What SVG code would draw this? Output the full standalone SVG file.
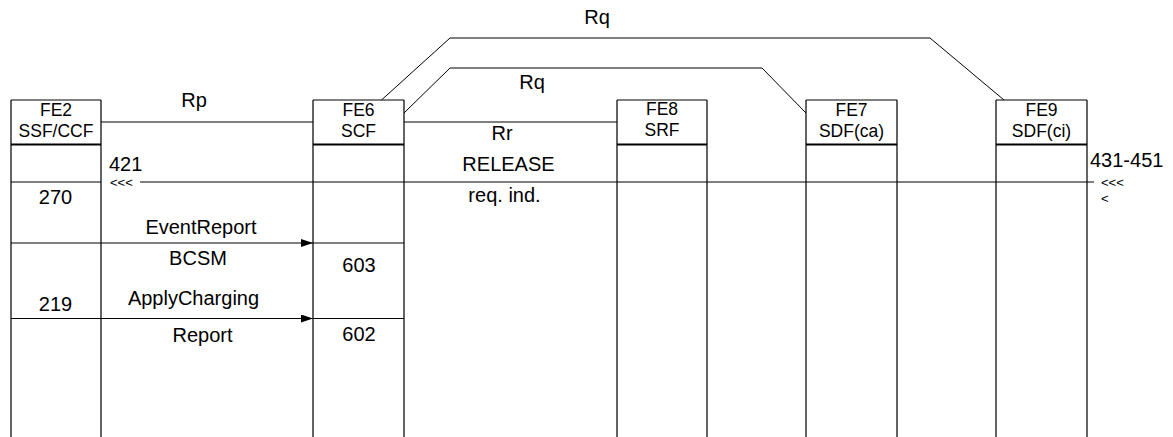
<svg xmlns="http://www.w3.org/2000/svg" width="1173" height="437" viewBox="0 0 1173 437">
<defs>
<style>
.box{fill:#fff;stroke:#000;stroke-width:1}
.life{stroke:#222;stroke-width:1.4;fill:none}
.hdr{stroke:#000;stroke-width:2}
.sep{stroke:#000;stroke-width:1}
.ln{stroke:#000;stroke-width:1;fill:none}
.fe{font-family:"Liberation Sans",Arial,sans-serif;font-size:17.5px;text-anchor:middle;fill:#000}
.lb{font-family:"Liberation Sans",Arial,sans-serif;font-size:20px;fill:#000}
.c{text-anchor:middle}
.sm{font-family:"Liberation Sans",Arial,sans-serif;font-size:13px;fill:#000}
</style>
<marker id="ah" viewBox="0 0 12 8" refX="12" refY="4" markerWidth="12" markerHeight="8" markerUnits="userSpaceOnUse" orient="auto">
<path d="M0,0 L12,4 L0,8 Z" fill="#000"/>
</marker>
</defs>
<rect width="1173" height="437" fill="#fff"/>

<g id="FE2">
<line class="life" x1="11" y1="100" x2="11" y2="437"/>
<line class="life" x1="101" y1="100" x2="101" y2="437"/>
<line class="sep" x1="11" y1="100" x2="101" y2="100"/>
<line class="hdr" x1="11" y1="144.5" x2="101" y2="144.5"/>
<line class="sep" x1="11" y1="182" x2="101" y2="182"/>
<line class="sep" x1="11" y1="243" x2="101" y2="243"/>
<line class="sep" x1="11" y1="318.5" x2="101" y2="318.5"/>
<text class="fe" x="56" y="115.5">FE2</text>
<text class="fe" x="56" y="136.5">SSF/CCF</text>
<text class="lb c" x="55.5" y="204">270</text>
<text class="lb c" x="55.5" y="311">219</text>
</g>

<g id="FE6">
<line class="life" x1="313" y1="100" x2="313" y2="437"/>
<line class="life" x1="404" y1="100" x2="404" y2="437"/>
<line class="sep" x1="313" y1="100" x2="404" y2="100"/>
<line class="hdr" x1="313" y1="144.5" x2="404" y2="144.5"/>
<line class="sep" x1="313" y1="243" x2="404" y2="243"/>
<line class="sep" x1="313" y1="318.5" x2="404" y2="318.5"/>
<text class="fe" x="358.5" y="115.5">FE6</text>
<text class="fe" x="358.5" y="136.5">SCF</text>
<text class="lb c" x="359" y="272">603</text>
<text class="lb c" x="359" y="341">602</text>
</g>

<g id="FE8">
<line class="life" x1="617" y1="100" x2="617" y2="437"/>
<line class="life" x1="707" y1="100" x2="707" y2="437"/>
<line class="sep" x1="617" y1="100" x2="707" y2="100"/>
<line class="hdr" x1="617" y1="144.5" x2="707" y2="144.5"/>
<text class="fe" x="662" y="115">FE8</text>
<text class="fe" x="662" y="136">SRF</text>
</g>

<g id="FE7">
<line class="life" x1="806" y1="100" x2="806" y2="437"/>
<line class="life" x1="897" y1="100" x2="897" y2="437"/>
<line class="sep" x1="806" y1="100" x2="897" y2="100"/>
<line class="hdr" x1="806" y1="144.5" x2="897" y2="144.5"/>
<text class="fe" x="851.5" y="115.5">FE7</text>
<text class="fe" x="851.5" y="136.5">SDF(ca)</text>
</g>

<g id="FE9">
<line class="life" x1="996" y1="100" x2="996" y2="437"/>
<line class="life" x1="1087" y1="100" x2="1087" y2="437"/>
<line class="sep" x1="996" y1="100" x2="1087" y2="100"/>
<line class="hdr" x1="996" y1="144.5" x2="1087" y2="144.5"/>
<text class="fe" x="1041.5" y="115.5">FE9</text>
<text class="fe" x="1041.5" y="136.5">SDF(ci)</text>
</g>

<g id="connectors">
<line class="ln" x1="101" y1="122" x2="313" y2="122"/>
<line class="ln" x1="404" y1="122" x2="617" y2="122"/>
<polyline class="ln" points="381.5,100 450,38 930,38 1004,100"/>
<polyline class="ln" points="404,113 450,68 762,68 806,113"/>
<line class="ln" x1="140" y1="182" x2="1094" y2="182"/>
<line class="ln" x1="101" y1="243" x2="313" y2="243" marker-end="url(#ah)"/>
<line class="ln" x1="101" y1="318.5" x2="313" y2="318.5" marker-end="url(#ah)"/>
</g>

<g id="labels">
<text class="lb c" x="194" y="107">Rp</text>
<text class="lb c" x="597" y="24">Rq</text>
<text class="lb c" x="532" y="89">Rq</text>
<text class="lb c" x="502" y="140">Rr</text>
<text class="lb c" x="508.5" y="171">RELEASE</text>
<text class="lb c" x="504.5" y="202">req. ind.</text>
<text class="lb" x="109" y="171">421</text>
<text class="sm" x="110" y="187">&lt;&lt;&lt;</text>
<text class="lb" x="1090" y="167">431-451</text>
<text class="sm" x="1101" y="187">&lt;&lt;&lt;</text>
<text class="sm" x="1101" y="203">&lt;</text>
<text class="lb c" x="201" y="234">EventReport</text>
<text class="lb c" x="198" y="265">BCSM</text>
<text class="lb c" x="193.5" y="305">ApplyCharging</text>
<text class="lb c" x="202.5" y="342">Report</text>
</g>
</svg>
